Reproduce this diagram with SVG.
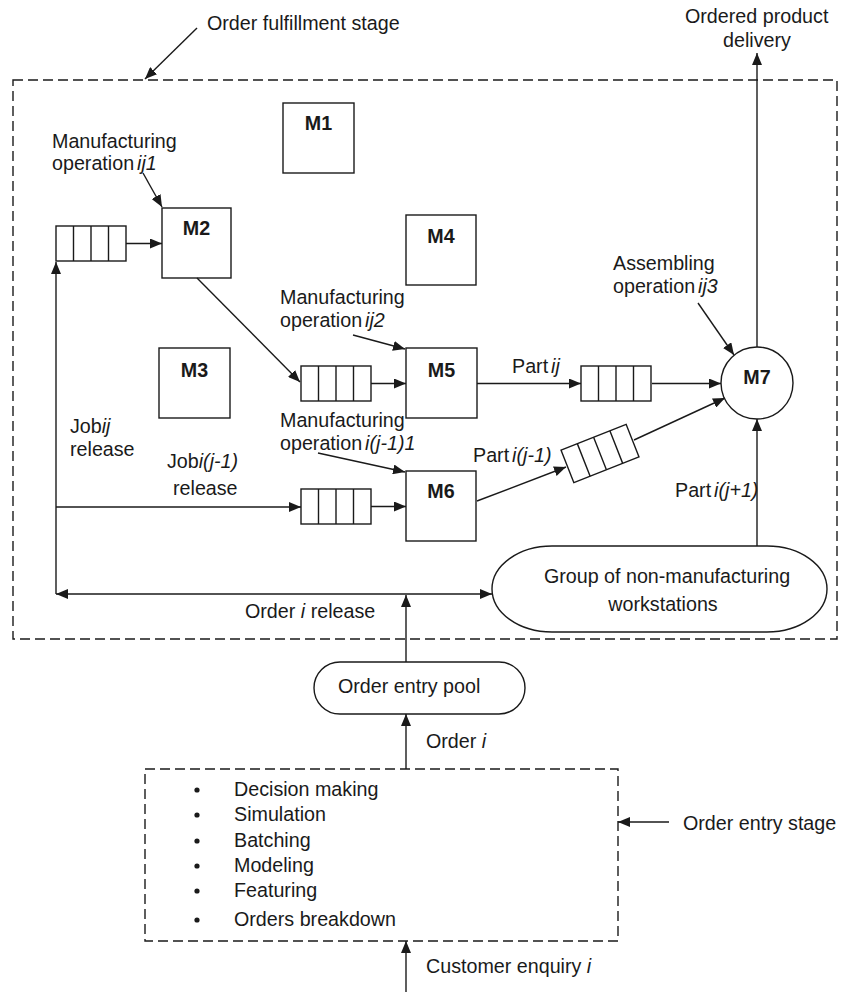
<svg xmlns="http://www.w3.org/2000/svg" width="849" height="992" viewBox="0 0 849 992">
<style>
text{font-family:"Liberation Sans",Arial,sans-serif;font-size:19.7px;fill:#1a1a1a}
.b{font-weight:bold}
.i{font-style:italic}
.m{text-anchor:middle}
.box{fill:#fff;stroke:#1a1a1a;stroke-width:1.4}
.dash{fill:none;stroke:#1a1a1a;stroke-width:1.4;stroke-dasharray:10 5}
.ln{fill:none;stroke:#1a1a1a;stroke-width:1.4}
.arr{marker-end:url(#ah)}
</style>
<defs>
<marker id="ah" viewBox="0 0 12 10" refX="12" refY="5" markerWidth="12" markerHeight="10" markerUnits="userSpaceOnUse" orient="auto-start-reverse">
<path d="M0,0 L12,5 L0,10 z" fill="#1a1a1a"/>
</marker>
<g id="queue">
<rect x="0" y="0" width="70" height="35" class="box"/>
<path d="M17.5,0 V35 M35,0 V35 M52.5,0 V35" class="ln"/>
</g>
</defs>
<rect width="849" height="992" fill="#fff"/>

<!-- stage boundaries -->
<g id="fulfillment-stage">
<rect x="13" y="80" width="824" height="559" class="dash"/>
<text x="207" y="30">Order fulfillment stage</text>
</g>
<g id="entry-stage">
<rect x="145" y="769" width="473" height="172" class="dash"/>
<text x="683" y="830">Order entry stage</text>
<g fill="#1a1a1a">
<circle cx="197" cy="790" r="2.6"/>
<circle cx="197" cy="815" r="2.6"/>
<circle cx="197" cy="841" r="2.6"/>
<circle cx="197" cy="866" r="2.6"/>
<circle cx="197" cy="891" r="2.6"/>
<circle cx="197" cy="920" r="2.6"/>
</g>
<text x="234" y="796">Decision making</text>
<text x="234" y="821">Simulation</text>
<text x="234" y="847">Batching</text>
<text x="234" y="872">Modeling</text>
<text x="234" y="897">Featuring</text>
<text x="234" y="926">Orders breakdown</text>
</g>

<!-- machines -->
<g id="M1"><rect x="283" y="103" width="71" height="70" class="box"/><text x="318.5" y="130" class="b m">M1</text></g>
<g id="M2"><rect x="162" y="208" width="69" height="70" class="box"/><text x="196.5" y="235" class="b m">M2</text></g>
<g id="M3"><rect x="159" y="348" width="71" height="70" class="box"/><text x="194.5" y="377" class="b m">M3</text></g>
<g id="M4"><rect x="406" y="215" width="70" height="70" class="box"/><text x="441" y="243" class="b m">M4</text></g>
<g id="M5"><rect x="406" y="348" width="71" height="70" class="box"/><text x="441.5" y="377" class="b m">M5</text></g>
<g id="M6"><rect x="406" y="471" width="70" height="70" class="box"/><text x="441" y="498" class="b m">M6</text></g>
<g id="M7"><circle cx="757" cy="383" r="36" class="box"/><text x="757" y="384" class="b m">M7</text></g>

<!-- buffers -->
<g id="queue1"><use href="#queue" x="56" y="226"/></g>
<g id="queue2"><use href="#queue" x="301" y="366"/></g>
<g id="queue3"><use href="#queue" x="301" y="489"/></g>
<g id="queue4"><use href="#queue" x="581" y="366"/></g>
<g id="queue5"><use href="#queue" transform="translate(600,453.5) rotate(-21.5) translate(-35,-17.5)"/></g>

<g id="non-manufacturing">
<rect x="492" y="546" width="335" height="86" rx="60" ry="43" class="box"/>
<text x="667" y="583" class="m">Group of non-manufacturing</text>
<text x="663" y="611" class="m">workstations</text>
</g>
<g id="order-pool">
<rect x="314" y="662" width="211" height="52" rx="26" ry="26" class="box"/>
<text x="338" y="693">Order entry pool</text>
</g>

<!-- connectors -->
<g id="connectors">
<path d="M197,28 L145,79" class="ln arr"/>
<path d="M143,173 L162,207" class="ln arr"/>
<path d="M126,243.5 H162" class="ln arr"/>
<path d="M197,278 L300,382" class="ln arr"/>
<path d="M371,383.5 H406" class="ln arr"/>
<path d="M353,335 L405,349" class="ln arr"/>
<path d="M318,453 L405,472" class="ln arr"/>
<path d="M56,594 V262" class="ln arr"/>
<path d="M56,507 H301" class="ln arr"/>
<path d="M371,506.5 H406" class="ln arr"/>
<path d="M477,383.5 H581" class="ln arr"/>
<path d="M652,383.5 H721" class="ln arr"/>
<path d="M477,501 L566,467" class="ln arr"/>
<path d="M634,440 L725,398" class="ln arr"/>
<path d="M698,303 L734,355" class="ln arr"/>
<path d="M757,347 V53" class="ln arr"/>
<path d="M757,546 V419" class="ln arr"/>
<path d="M56,594 H492" class="ln arr" marker-start="url(#ah)"/>
<path d="M406,662 V595" class="ln arr"/>
<path d="M406,769 V714" class="ln arr"/>
<path d="M406,992 V941" class="ln arr"/>
<path d="M669,822 H618" class="ln arr"/>
</g>

<!-- connector labels -->
<g id="labels">
<text x="685" y="23">Ordered product</text>
<text x="757" y="47" class="m">delivery</text>
<text x="52" y="148">Manufacturing</text>
<text x="52" y="170">operation<tspan class="i" dx="3">ij1</tspan></text>
<text x="280" y="304">Manufacturing</text>
<text x="280" y="327">operation<tspan class="i" dx="3">ij2</tspan></text>
<text x="280" y="427">Manufacturing</text>
<text x="280" y="450">operation<tspan class="i" dx="3">i(j-1)1</tspan></text>
<text x="613" y="270">Assembling</text>
<text x="613" y="293">operation<tspan class="i" dx="3">ij3</tspan></text>
<text x="70" y="433">Job<tspan class="i">ij</tspan></text>
<text x="70" y="456">release</text>
<text x="167" y="468">Job<tspan class="i">i(j-1)</tspan></text>
<text x="173" y="495">release</text>
<text x="512" y="373">Part<tspan class="i" dx="3">ij</tspan></text>
<text x="473" y="462">Part<tspan class="i" dx="3">i(j-1)</tspan></text>
<text x="675" y="497">Part<tspan class="i" dx="3">i(j+1)</tspan></text>
<text x="245" y="618">Order <tspan class="i">i</tspan> release</text>
<text x="426" y="748">Order <tspan class="i">i</tspan></text>
<text x="426" y="973">Customer enquiry <tspan class="i">i</tspan></text>
</g>
</svg>
